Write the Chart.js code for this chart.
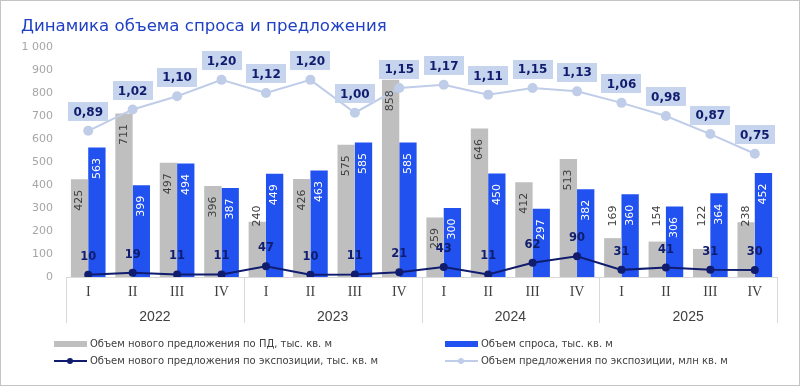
<!DOCTYPE html>
<html lang="ru">
<head>
<meta charset="utf-8">
<title>Динамика объема спроса и предложения</title>
<script src="https://cdn.jsdelivr.net/npm/chart.js@4.4.1/dist/chart.umd.min.js"></script>
<style>
  body { margin: 0; background: #fff; }
  #wrap { position: relative; width: 800px; height: 386px; overflow: hidden; font-family: 'DejaVu Sans', Verdana, sans-serif; }
  #chart { position: absolute; left: 0; top: 0; }
  #frame { position: absolute; left: 0; top: 0; width: 800px; height: 386px; box-sizing: border-box; border: 1px solid #c4c4c4; pointer-events: none; }
  .title { position: absolute; left: 21px; top: 15px; font-size: 16.6px; line-height: 22px; color: #2041c4; white-space: nowrap; }
  .lg { position: absolute; height: 14px; line-height: 14px; font-size: 10px; color: #404040; white-space: nowrap; }
  .lg .sym { position: absolute; left: 0; top: 0; width: 33px; height: 14px; }
  .lg .txt { position: absolute; left: 36px; top: 0; }
  .sym .rect { position: absolute; left: 0; top: 4px; width: 33px; height: 6px; }
  .sym .line { position: absolute; left: 0; top: 6px; width: 33px; height: 2px; }
  .sym .dot { position: absolute; left: 13px; top: 4px; width: 6px; height: 6px; border-radius: 50%; }
</style>
</head>
<body>
<div id="wrap">
  <canvas id="chart" width="800" height="386"></canvas>
  <div class="title">Динамика объема спроса и предложения</div>

  <div class="lg" style="left:54px; top:337px;">
    <span class="sym"><span class="rect" style="background:#bfbfbf"></span></span>
    <span class="txt">Объем нового предложения по ПД, тыс. кв. м</span>
  </div>
  <div class="lg" style="left:445px; top:337px;">
    <span class="sym"><span class="rect" style="background:#2152f0"></span></span>
    <span class="txt">Объем спроса, тыс. кв. м</span>
  </div>
  <div class="lg" style="left:54px; top:354px;">
    <span class="sym"><span class="line" style="background:#101c6e"></span><span class="dot" style="background:#101c6e"></span></span>
    <span class="txt">Объем нового предложения по экспозиции, тыс. кв. м</span>
  </div>
  <div class="lg" style="left:445px; top:354px;">
    <span class="sym"><span class="line" style="background:#bfcde9"></span><span class="dot" style="background:#bfcde9"></span></span>
    <span class="txt">Объем предложения по экспозиции, млн кв. м</span>
  </div>

  <div id="frame"></div>
</div>

<script>
/* ===== Data ===== */

var quarters = ['I', 'II', 'III', 'IV', 'I', 'II', 'III', 'IV',
                'I', 'II', 'III', 'IV', 'I', 'II', 'III', 'IV'];
var years = ['2022', '2023', '2024', '2025'];

// Объем нового предложения по ПД, тыс. кв. м
var supplyPd = [425, 711, 497, 396, 240, 426, 575, 858, 259, 646, 412, 513, 169, 154, 122, 238];
// Объем спроса, тыс. кв. м
var demand = [563, 399, 494, 387, 449, 463, 585, 585, 300, 450, 297, 382, 360, 306, 364, 452];
// Объем нового предложения по экспозиции, тыс. кв. м
var newExposure = [10, 19, 11, 11, 47, 10, 11, 21, 43, 11, 62, 90, 31, 41, 31, 30];
// Объем предложения по экспозиции, млн кв. м
var totalExposure = [0.89, 1.02, 1.10, 1.20, 1.12, 1.20, 1.00, 1.15, 1.17, 1.11, 1.15, 1.13, 1.06, 0.98, 0.87, 0.75];


/* ===== Colors ===== */

var colors = {
    gray: '#bfbfbf',
    blue: '#2152f0',
    navy: '#101c6e',
    light: '#bfcde9',
    lightBox: '#c6d4ee',
    axis: '#d9d9d9',
    tick: '#a6a6a6',
    text: '#404040',
};


/* ===== Plugins ===== */

function formatThousands(v) {
    return String(v).replace(/\B(?=(\d{3})+(?!\d))/g, ' ');
}

var valueLabels = {
    id: 'valueLabels',
    afterDatasetsDraw: function(chart) {
        var ctx = chart.ctx;
        var yScale = chart.scales.y;
        ctx.save();
        ctx.textAlign = 'center';
        ctx.textBaseline = 'middle';

        // rotated bar labels
        ctx.font = '11px "DejaVu Sans"';
        [0, 1].forEach(function(di) {
            var meta = chart.getDatasetMeta(di);
            var values = chart.data.datasets[di].data;
            meta.data.forEach(function(bar, i) {
                var cy = bar.y + 21;
                if (di === 0 && values[i] < 245) cy = yScale.getPixelForValue(265);
                ctx.fillStyle = di === 0 ? colors.text : '#ffffff';
                ctx.save();
                ctx.translate(bar.x, cy);
                ctx.rotate(-Math.PI / 2);
                ctx.fillText(String(values[i]), 0, 0);
                ctx.restore();
            });
        });

        // new exposure line labels
        ctx.font = 'bold 11.5px "DejaVu Sans"';
        ctx.fillStyle = colors.navy;
        chart.getDatasetMeta(2).data.forEach(function(pt, i) {
            ctx.fillText(String(newExposure[i]), pt.x, pt.y - 18);
        });

        // total exposure labels in boxes
        ctx.font = 'bold 12px "DejaVu Sans"';
        chart.getDatasetMeta(3).data.forEach(function(pt, i) {
            var cy = pt.y - 19;
            ctx.fillStyle = colors.lightBox;
            ctx.fillRect(Math.round(pt.x - 20), Math.round(cy - 9.5), 40, 19);
            ctx.fillStyle = colors.navy;
            ctx.fillText(totalExposure[i].toFixed(2).replace('.', ','), pt.x, cy + 1);
        });

        ctx.restore();
    },
};

var yearSeparators = {
    id: 'yearSeparators',
    afterDraw: function(chart) {
        var xs = chart.scales.x;
        var ctx = chart.ctx;
        var bottom = chart.chartArea.bottom;
        var perYear = quarters.length / years.length;
        ctx.save();
        ctx.strokeStyle = colors.axis;
        ctx.lineWidth = 1;
        for (var k = 0; k <= quarters.length; k += perYear) {
            var x;
            if (k === 0) x = xs.left;
            else if (k === quarters.length) x = xs.right;
            else x = (xs.getPixelForTick(k - 1) + xs.getPixelForTick(k)) / 2;
            x = Math.round(x) + 0.5;
            ctx.beginPath();
            ctx.moveTo(x, bottom);
            ctx.lineTo(x, bottom + 46);
            ctx.stroke();
        }
        ctx.restore();
    },
};


/* ===== Chart ===== */

new Chart(document.getElementById('chart'), {
    type: 'bar',
    data: {
        labels: quarters,
        datasets: [
            {
                label: 'Объем нового предложения по ПД, тыс. кв. м',
                data: supplyPd,
                backgroundColor: colors.gray,
                categoryPercentage: 0.78,
                barPercentage: 1,
                order: 2,
            },
            {
                label: 'Объем спроса, тыс. кв. м',
                data: demand,
                backgroundColor: colors.blue,
                categoryPercentage: 0.78,
                barPercentage: 1,
                order: 2,
            },
            {
                type: 'line',
                label: 'Объем нового предложения по экспозиции, тыс. кв. м',
                data: newExposure,
                borderColor: colors.navy,
                backgroundColor: colors.navy,
                borderWidth: 2,
                pointRadius: 4,
                pointBorderWidth: 0,
                tension: 0,
                order: 1,
            },
            {
                type: 'line',
                label: 'Объем предложения по экспозиции, млн кв. м',
                data: totalExposure,
                yAxisID: 'y2',
                borderColor: colors.light,
                backgroundColor: colors.light,
                borderWidth: 2,
                pointRadius: 5,
                pointBorderWidth: 0,
                tension: 0,
                order: 0,
            },
        ],
    },
    options: {
        responsive: false,
        animation: false,
        layout: { padding: { left: 0, right: 23, top: 47, bottom: 52 } },
        plugins: {
            legend: { display: false },
            title: { display: false },
            tooltip: { enabled: false },
        },
        scales: {
            x: {
                weight: 0,
                offset: true,
                grid: { display: false, drawTicks: false },
                border: { display: true, color: colors.axis },
                ticks: {
                    color: colors.text,
                    padding: 7,
                    maxRotation: 0,
                    autoSkip: false,
                    font: { family: '"Liberation Serif"', size: 14 },
                },
                afterFit: function(scale) { scale.height = 27; },
            },
            x2: {
                type: 'category',
                labels: years,
                position: 'bottom',
                weight: 1,
                offset: true,
                grid: { display: false, drawTicks: false },
                border: { display: false },
                ticks: {
                    color: colors.text,
                    padding: 5,
                    maxRotation: 0,
                    font: { family: '"Liberation Sans"', size: 14 },
                },
                afterFit: function(scale) { scale.height = 30; },
            },
            y: {
                min: 0,
                max: 1000,
                grid: { display: false, drawTicks: false },
                border: { display: false },
                ticks: {
                    stepSize: 100,
                    color: colors.tick,
                    padding: 13,
                    font: { family: '"DejaVu Sans"', size: 11 },
                    callback: function(v) { return formatThousands(v); },
                },
                afterFit: function(scale) { scale.width = 66; },
            },
            y2: {
                display: false,
                min: 0,
                max: 1.4,
            },
        },
    },
    plugins: [valueLabels, yearSeparators],
});
</script>
</body>
</html>
